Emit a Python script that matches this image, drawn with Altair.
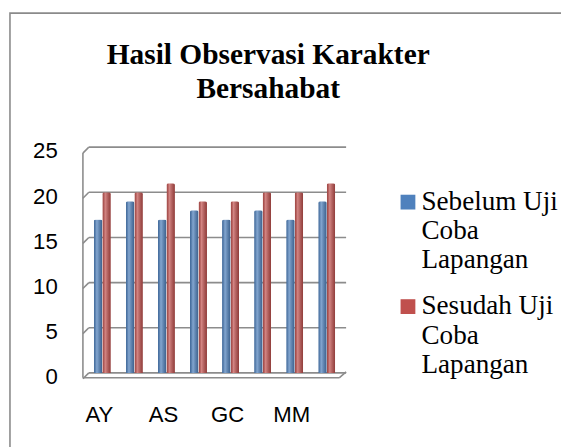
import altair as alt
import pandas as pd

categories = ["AY", "S2", "AS", "S4", "GC", "S6", "MM", "S8"]
shown_labels = ["AY", "AS", "GC", "MM"]
series_names = ["Sebelum Uji Coba Lapangan", "Sesudah Uji Coba Lapangan"]
sebelum = [17, 19, 17, 18, 17, 18, 17, 19]
sesudah = [20, 20, 21, 19, 19, 20, 20, 21]
y_ticks = [0, 5, 10, 15, 20, 25]
colors = ["#4F81BD", "#C0504D"]
title_lines = ["Hasil Observasi Karakter", "Bersahabat"]

rows = []
for i, c in enumerate(categories):
    rows.append({"cat": c, "series": series_names[0], "value": sebelum[i]})
    rows.append({"cat": c, "series": series_names[1], "value": sesudah[i]})
df = pd.DataFrame(rows)
grid_df = pd.DataFrame({"v": y_ticks})
one = pd.DataFrame({"a": [0]})

W, H = 267, 229
GRID = "#8c8c8c"
yscale = alt.Scale(domain=[0, 25], nice=False, zero=True)
xscale = alt.Scale(domain=categories, paddingInner=0.47, paddingOuter=0.34)
offscale = alt.Scale(domain=series_names, paddingInner=0, paddingOuter=0)

yaxis = alt.Axis(
    values=y_ticks,
    title=None,
    domain=False,
    ticks=False,
    grid=False,
    labelPadding=26,
    labelFont="Liberation Sans",
    labelFontSize=22.5,
    labelColor="black",
    labelOffset=4,
)
label_expr = "indexof(" + str(shown_labels) + ", datum.value) >= 0 ? datum.label : ''"
xaxis = alt.Axis(
    title=None,
    labelAngle=0,
    ticks=False,
    domain=False,
    grid=False,
    labelPadding=31,
    labelFont="Liberation Sans",
    labelFontSize=22.5,
    labelColor="black",
    labelOffset=-3,
    labelExpr=label_expr,
)

frame = alt.Chart(one).mark_rect(fillOpacity=0, stroke="#8a8a8a", strokeWidth=1.6).encode(
    x=alt.value(-74), x2=alt.value(700), y=alt.value(-136), y2=alt.value(500)
)

title = alt.Chart(one).mark_text(
    font="Liberation Serif",
    fontSize=29.8,
    fontWeight="bold",
    lineHeight=34,
    align="center",
    baseline="alphabetic",
    color="black",
).encode(x=alt.value(188), y=alt.value(-84), text=alt.value(title_lines))

grid = alt.Chart(grid_df).mark_rule(color=GRID, strokeWidth=1.6).encode(
    x=alt.value(6),
    x2=alt.value(W),
    y=alt.Y("v:Q", scale=yscale, axis=yaxis),
)

diag = alt.Chart(grid_df).mark_rule(color=GRID, strokeWidth=1.6, yOffset=6, y2Offset=0).encode(
    x=alt.value(0), x2=alt.value(6), y=alt.Y("v:Q", scale=yscale, axis=yaxis), y2="v:Q"
)

wall = alt.Chart(one).mark_rule(color=GRID, strokeWidth=1.6, yOffset=5, y2Offset=6).encode(
    x=alt.value(0), y=alt.YDatum(0, scale=yscale, axis=yaxis), y2=alt.Y2Datum(25)
)

floor_front = alt.Chart(one).mark_rule(color=GRID, strokeWidth=1.6, yOffset=5).encode(
    x=alt.value(0), x2=alt.value(W - 7), y=alt.YDatum(0, scale=yscale, axis=yaxis)
)
floor_right = alt.Chart(one).mark_rule(color=GRID, strokeWidth=1.6, yOffset=5, y2Offset=-1).encode(
    x=alt.value(W - 7), x2=alt.value(W), y=alt.YDatum(0, scale=yscale, axis=yaxis), y2=alt.Y2Datum(0)
)

bars = alt.Chart(df).mark_bar(cornerRadiusTopLeft=2, cornerRadiusTopRight=2).encode(
    x=alt.X("cat:N", scale=xscale, sort=categories, axis=xaxis),
    xOffset=alt.XOffset("series:N", scale=offscale, sort=series_names),
    y=alt.Y("value:Q", scale=yscale, axis=yaxis),
    color=alt.Color(
        "series:N",
        scale=alt.Scale(domain=series_names, range=colors),
        legend=alt.Legend(
            title=None,
            orient="none",
            legendX=316,
            legendY=42,
            symbolType="square",
            symbolSize=225,
            symbolStrokeWidth=0,
            symbolOpacity=1,
            labelFont="Liberation Serif",
            labelFontSize=27.5,
            labelColor="black",
            labelLimit=400,
            labelOffset=0,
            rowPadding=18,
            padding=0,
            labelExpr="split(replace(datum.label, ' Coba ', '|Coba|'), '|')",
        ),
    ),
)

shade = alt.Chart(df).mark_bar(
    cornerRadiusTopLeft=2,
    cornerRadiusTopRight=2,
    fill=alt.Gradient(
        gradient="linear",
        x1=0, x2=1, y1=0, y2=0,
        stops=[
            alt.GradientStop(color="rgba(0,0,0,0.18)", offset=0),
            alt.GradientStop(color="rgba(255,255,255,0.30)", offset=0.35),
            alt.GradientStop(color="rgba(0,0,0,0.25)", offset=1),
        ],
    ),
).encode(
    x=alt.X("cat:N", scale=xscale, sort=categories, axis=xaxis),
    xOffset=alt.XOffset("series:N", scale=offscale, sort=series_names),
    y=alt.Y("value:Q", scale=yscale, axis=yaxis),
)

chart = (
    alt.layer(frame, title, grid, diag, wall, floor_front, floor_right, bars, shade)
    .properties(
        width=W,
        height=H,
        padding={"left": 76, "top": 138, "right": 218, "bottom": 72},
        autosize=alt.AutoSizeParams(type="none"),
        background="white",
    )
    .configure_view(stroke=None)
)

chart.save("out.html", embed_options={"renderer": "svg", "actions": False})
